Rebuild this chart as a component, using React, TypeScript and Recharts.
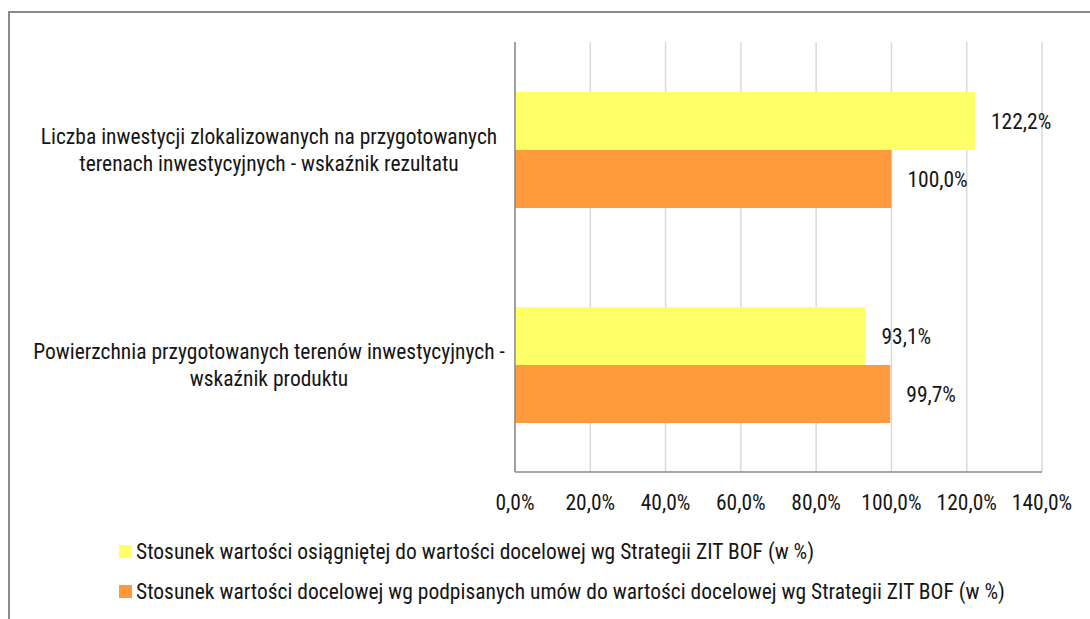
import React from "react";
import { BarChart, Bar, XAxis, YAxis, CartesianGrid, LabelList } from "recharts";

const categories = [
  "Liczba inwestycji zlokalizowanych na przygotowanych terenach inwestycyjnych - wskaźnik rezultatu",
  "Powierzchnia przygotowanych terenów inwestycyjnych - wskaźnik produktu",
];
const categoryLines: string[][] = [
  ["Liczba inwestycji zlokalizowanych na przygotowanych", "terenach inwestycyjnych - wskaźnik rezultatu"],
  ["Powierzchnia przygotowanych terenów inwestycyjnych -", "wskaźnik produktu"],
];
const achieved = [122.2, 93.1];
const contracted = [100.0, 99.7];
const xTicks = [0, 20, 40, 60, 80, 100, 120, 140];
const seriesNames = [
  "Stosunek wartości osiągniętej do wartości docelowej wg Strategii ZIT BOF (w %)",
  "Stosunek wartości docelowej wg podpisanych umów do wartości docelowej wg Strategii ZIT BOF (w %)",
];

const YELLOW = "#FFFF66";
const ORANGE = "#FF9A3C";
const FONT = "'Roboto Condensed', 'Liberation Sans Narrow', 'DejaVu Sans Condensed', Roboto, sans-serif";
const TEXT = "#161616";
const FS = 21.5;

const data = categories.map((c, i) => ({
  name: c,
  idx: i,
  achieved: achieved[i],
  contracted: contracted[i],
}));

const fmt = (v: number) => v.toFixed(1).replace(".", ",") + "%";

const YTick = (props: any) => {
  const { y, payload } = props;
  const i = categories.indexOf(payload.value);
  const lines = categoryLines[i] || [payload.value];
  const lh = 27;
  const startY = y - ((lines.length - 1) * lh) / 2;
  return (
    <text x={269} y={startY} textAnchor="middle" fontSize={FS} fill={TEXT} fontFamily={FONT} dominantBaseline="central">
      {lines.map((l, k) => (
        <tspan key={k} x={269} y={startY + k * lh}>
          {l}
        </tspan>
      ))}
    </text>
  );
};

export default function App() {
  return (
    <div style={{ position: "absolute", left: 0, top: 0, width: 1090, height: 619, background: "#fff", overflow: "hidden" }}>
      <div
        style={{
          position: "absolute",
          left: 8,
          top: 11,
          width: 1100,
          height: 640,
          border: "2px solid #8a8a8a",
          boxSizing: "border-box",
        }}
      />
      <div style={{ position: "absolute", left: 0, top: 0 }}>
        <BarChart
          width={1090}
          height={619}
          data={data}
          layout="vertical"
          margin={{ top: 42, right: 48, bottom: 97, left: 0 }}
          barCategoryGap={50}
          barGap={0}
        >
          <CartesianGrid horizontal={false} stroke="#d9d9d9" strokeWidth={1.5} />
          <XAxis
            type="number"
            domain={[0, 140]}
            ticks={xTicks}
            tickFormatter={fmt}
            axisLine={{ stroke: "#8a8a8a", strokeWidth: 1.5 }}
            tickLine={false}
            tick={{ fontSize: FS, fill: TEXT, fontFamily: FONT }}
            tickMargin={17}
            height={50}
          />
          <YAxis
            type="category"
            dataKey="name"
            width={515}
            axisLine={{ stroke: "#8a8a8a", strokeWidth: 1.5 }}
            tickLine={false}
            tick={<YTick />}
          />
          <Bar dataKey="achieved" fill={YELLOW} isAnimationActive={false}>
            <LabelList dataKey="achieved" position="right" offset={16} formatter={fmt} style={{ fontSize: FS, fill: TEXT, fontFamily: FONT }} />
          </Bar>
          <Bar dataKey="contracted" fill={ORANGE} isAnimationActive={false}>
            <LabelList dataKey="contracted" position="right" offset={16} formatter={fmt} style={{ fontSize: FS, fill: TEXT, fontFamily: FONT }} />
          </Bar>
        </BarChart>
      </div>
      {seriesNames.map((s, i) => (
        <div
          key={i}
          style={{
            position: "absolute",
            left: 119,
            top: 538 + i * 40,
            height: 26,
            display: "flex",
            alignItems: "center",
            fontFamily: FONT,
            fontSize: FS,
            color: TEXT,
            whiteSpace: "nowrap",
          }}
        >
          <span style={{ display: "inline-block", width: 13, height: 13, background: i === 0 ? YELLOW : ORANGE, marginRight: 4 }} />
          {s}
        </div>
      ))}
    </div>
  );
}
